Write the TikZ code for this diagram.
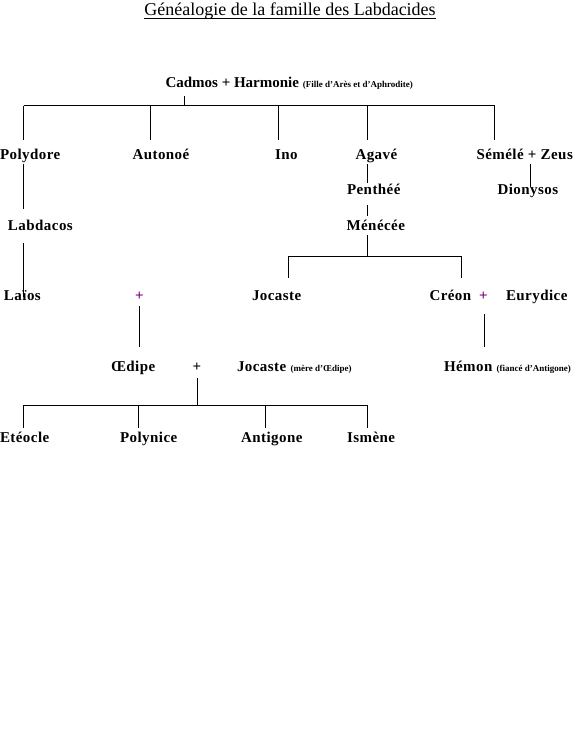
\documentclass[tikz,border=0pt]{standalone}
\usepackage{fontspec}
\setmainfont{Liberation Serif}
\newfontfamily\spacedserif[LetterSpace=3]{Liberation Serif}
\definecolor{plum}{RGB}{128,0,128}
\begin{document}
\begin{tikzpicture}[x=1pt,y=-1pt,
  nm/.style={anchor=base west,inner sep=0pt,outer sep=0pt,font=\spacedserif\fontsize{15}{18}\selectfont\bfseries},
  top/.style={anchor=base west,inner sep=0pt,outer sep=0pt,font=\fontsize{15}{18}\selectfont\bfseries},
  pl/.style={anchor=base,inner sep=0pt,outer sep=0pt,font=\fontsize{15}{18}\selectfont\bfseries},
  ln/.style={line width=1pt,black}]
\useasboundingbox[fill=white] (0,0) rectangle (580,749);
\newcommand{\smalltxt}[1]{{\rmfamily\fontsize{9}{10}\selectfont #1}}
% title
\node[anchor=base,inner sep=0pt,font=\fontsize{18}{20}\selectfont] (title) at (290,16) {Généalogie de la famille des Labdacides};
\coordinate (ulL) at (title.base west);
\coordinate (ulR) at (title.base east);
\draw[line width=0.9pt] ([yshift=-2pt]ulL) -- ([yshift=-2pt]ulR);
% generation 1
\node[top] (cad) at (165.5,88) {Cadmos + Harmonie \smalltxt{(Fille d’Arès et d’Aphrodite)}};
% generation 2
\node[nm] (pol) at (0,159) {Polydore};
\node[nm] (aut) at (132.5,159) {Autonoé};
\node[nm] (ino) at (275,159) {Ino};
\node[nm] (aga) at (355.5,159) {Agavé};
\node[nm] (sem) at (476.5,159) {Sémélé + Zeus};
% generation 3
\node[nm] (pen) at (347,194) {Penthéé};
\node[nm] (dio) at (497.5,194) {Dionysos};
\node[nm] (lab) at (8,230) {Labdacos};
\node[nm] (men) at (346.5,230) {Ménécée};
% generation 4
\node[nm] (lai) at (4,300) {Laïos};
\node[pl,text=plum] (p1) at (139.5,300) {+};
\node[nm] (joc) at (252,300) {Jocaste};
\node[nm] (cre) at (429.5,300) {Créon};
\node[pl,text=plum] (p2) at (483.5,300) {+};
\node[nm] (eur) at (506,300) {Eurydice};
% generation 5
\node[nm] (oed) at (111,371) {Œdipe};
\node[pl] (p3) at (197,371) {+};
\node[nm] (joc2) at (237,371) {Jocaste \smalltxt{(mère d’Œdipe)}};
\node[nm] (hem) at (444,371) {Hémon \smalltxt{(fiancé d’Antigone)}};
% generation 6
\node[nm] (ete) at (0,442) {Etéocle};
\node[nm] (pyn) at (120,442) {Polynice};
\node[nm] (ant) at (241,442) {Antigone};
\node[nm] (ism) at (347,442) {Ismène};
% connector points
\coordinate (c0) at (184.5,96);
\coordinate (c1) at (184.5,106);
\coordinate (bA) at (23.5,106);
\coordinate (bB) at (150.5,106);
\coordinate (bC) at (278,106);
\coordinate (bD) at (367.5,106);
\coordinate (bE) at (494.5,106);
\coordinate (eA) at (23.5,140);
\coordinate (eB) at (150.5,140);
\coordinate (eC) at (278,140);
\coordinate (eD) at (367.5,140);
\coordinate (eE) at (494.5,140);
\coordinate (polB) at (23.5,164);
\coordinate (labT) at (23.5,209);
\coordinate (labB) at (23.5,243);
\coordinate (laiT) at (23.5,297);
\coordinate (agaB) at (367.5,164);
\coordinate (penT) at (367.5,183);
\coordinate (penB) at (367.5,205);
\coordinate (menT) at (367.5,216);
\coordinate (menB) at (367.5,235);
\coordinate (mbar) at (367.5,256);
\coordinate (mL) at (288.5,256);
\coordinate (mR) at (461,256);
\coordinate (jocT) at (288.5,278);
\coordinate (creT) at (461,278);
\coordinate (semB) at (530,164);
\coordinate (dioT) at (530,187);
\coordinate (p1B) at (139.5,306);
\coordinate (oedT) at (139.5,347);
\coordinate (p2B) at (484,314);
\coordinate (hemT) at (484,347);
\coordinate (p3B) at (197,378);
\coordinate (kbar) at (197,405);
\coordinate (kA) at (23.5,405);
\coordinate (kB) at (138.5,405);
\coordinate (kC) at (265.5,405);
\coordinate (kD) at (367.5,405);
\coordinate (fA) at (23.5,428);
\coordinate (fB) at (138.5,428);
\coordinate (fC) at (265.5,428);
\coordinate (fD) at (367.5,428);
% connectors
\draw[ln] (c0) -- (c1);
\draw[ln] (bA) -- (bE);
\draw[ln] (bA) -- (eA);
\draw[ln] (bB) -- (eB);
\draw[ln] (bC) -- (eC);
\draw[ln] (bD) -- (eD);
\draw[ln] (bE) -- (eE);
\draw[ln] (polB) -- (labT);
\draw[ln] (labB) -- (laiT);
\draw[ln] (agaB) -- (penT);
\draw[ln] (penB) -- (menT);
\draw[ln] (menB) -- (mbar);
\draw[ln] (mL) -- (mR);
\draw[ln] (mL) -- (jocT);
\draw[ln] (mR) -- (creT);
\draw[ln] (semB) -- (dioT);
\draw[ln] (p1B) -- (oedT);
\draw[ln] (p2B) -- (hemT);
\draw[ln] (p3B) -- (kbar);
\draw[ln] (kA) -- (kD);
\draw[ln] (kA) -- (fA);
\draw[ln] (kB) -- (fB);
\draw[ln] (kC) -- (fC);
\draw[ln] (kD) -- (fD);
\end{tikzpicture}
\end{document}
